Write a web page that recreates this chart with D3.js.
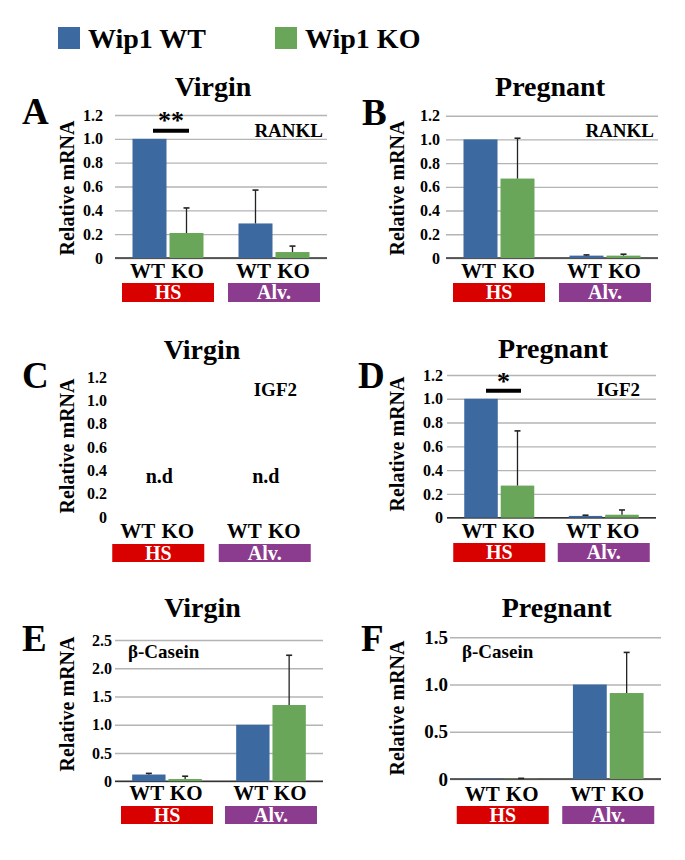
<!DOCTYPE html>
<html><head><meta charset="utf-8">
<script src="https://cdn.jsdelivr.net/npm/d3@7"></script>
<style>body{margin:0;background:#fff}svg{display:block}text{font-family:"Liberation Serif","Times New Roman",serif;font-weight:bold}</style>
</head><body>
<script>
// ---------- data ----------
const categories = ["HS", "Alv."];
const seriesNames = ["WT", "KO"];
const legendNames = ["Wip1 WT", "Wip1 KO"];
const panelLetters = ["A", "B", "C", "D", "E", "F"];
const panelTitles = ["Virgin", "Pregnant", "Virgin", "Pregnant", "Virgin", "Pregnant"];
const geneLabels = ["RANKL", "RANKL", "IGF2", "IGF2", "β-Casein", "β-Casein"];
const ticks12 = [0, 0.2, 0.4, 0.6, 0.8, 1.0, 1.2];
const ticks12Labels = ["0", "0.2", "0.4", "0.6", "0.8", "1.0", "1.2"];
const ticks25 = [0, 0.5, 1.0, 1.5, 2.0, 2.5];
const ticks25Labels = ["0", "0.5", "1.0", "1.5", "2.0", "2.5"];
const ticks15 = [0, 0.5, 1.0, 1.5];
const ticks15Labels = ["0", "0.5", "1.0", "1.5"];
// means and (upper) error per category [HS, Alv.]
const A_WT = [1.00, 0.29], A_WT_err = [0, 0.28];
const A_KO = [0.21, 0.05], A_KO_err = [0.21, 0.05];
const B_WT = [1.00, 0.02], B_WT_err = [0, 0.006];
const B_KO = [0.67, 0.02], B_KO_err = [0.34, 0.012];
const C_WT = null, C_KO = null; // n.d
const D_WT = [1.00, 0.015], D_WT_err = [0, 0.006];
const D_KO = [0.27, 0.025], D_KO_err = [0.46, 0.04];
const E_WT = [0.12, 1.00], E_WT_err = [0.02, 0];
const E_KO = [0.04, 1.35], E_KO_err = [0.05, 0.88];
const F_WT = [0.006, 1.00], F_WT_err = [0, 0];
const F_KO = [0.003, 0.91], F_KO_err = [0.004, 0.43];
const sigLabels = ["**", null, null, "*", null, null];
const ndLabel = "n.d";

// ---------- style / layout ----------
const FONT = '"Liberation Serif","Times New Roman",Times,serif';
const colors = {WT: "#3c69a0", KO: "#6aa65a"};
const boxColors = {"HS": "#d90000", "Alv.": "#8c3c8e"};
const layout = [
  {x0:115,x1:327,zero:258,top:115,max:1.2,ticks:ticks12,tl:ticks12Labels,tickRight:103,tickFs:16,titleX:213,titleY:96,letterX:22,letterY:124,ylabX:67,ylabY:188,geneX:323,geneY:137,geneAnchor:"end",catY:278,boxY:283,boxH:19,grid:true},
  {x0:446,x1:658,zero:258,top:115.7,max:1.2,ticks:ticks12,tl:ticks12Labels,tickRight:440,tickFs:16,titleX:550,titleY:96,letterX:362,letterY:125,ylabX:397,ylabY:188,geneX:654,geneY:137,geneAnchor:"end",catY:278,boxY:283,boxH:19,grid:true},
  {x0:105,x1:318,zero:517,top:377,max:1.2,ticks:ticks12,tl:ticks12Labels,tickRight:107,tickFs:16,titleX:202,titleY:359,letterX:22,letterY:388,ylabX:67,ylabY:446,geneX:297,geneY:396,geneAnchor:"end",catY:538,boxY:544,boxH:18,grid:false},
  {x0:447,x1:656,zero:517.7,top:375,max:1.2,ticks:ticks12,tl:ticks12Labels,tickRight:443,tickFs:16,titleX:553,titleY:358,letterX:358,letterY:388,ylabX:397,ylabY:444,geneX:640,geneY:396,geneAnchor:"end",catY:538,boxY:543,boxH:19,grid:true},
  {x0:115,x1:323,zero:781.3,top:640,max:2.5,ticks:ticks25,tl:ticks25Labels,tickRight:112,tickFs:16,titleX:202.5,titleY:617,letterX:22,letterY:651,ylabX:67,ylabY:704,geneX:128,geneY:658,geneAnchor:"start",catY:800,boxY:806,boxH:18,grid:true},
  {x0:450,x1:661,zero:779,top:637.3,max:1.5,ticks:ticks15,tl:ticks15Labels,tickRight:448,tickFs:19,titleX:556.7,titleY:617,letterX:361,letterY:651,ylabX:397,ylabY:708,geneX:462,geneY:658,geneAnchor:"start",catY:800.7,boxY:806,boxH:18,grid:true}
];
const sigBars = [{x:[153,189], y:130.7, ty:129}, null, null, {x:[486,521], y:390.7, ty:390}, null, null];

const panelData = [
  {WT:A_WT, WTe:A_WT_err, KO:A_KO, KOe:A_KO_err},
  {WT:B_WT, WTe:B_WT_err, KO:B_KO, KOe:B_KO_err},
  null,
  {WT:D_WT, WTe:D_WT_err, KO:D_KO, KOe:D_KO_err},
  {WT:E_WT, WTe:E_WT_err, KO:E_KO, KOe:E_KO_err},
  {WT:F_WT, WTe:F_WT_err, KO:F_KO, KOe:F_KO_err}
];

const svg = d3.select("body").append("svg").attr("width", 685).attr("height", 860)
  .attr("font-family", FONT).attr("font-weight", "bold");

// legend
const legendX = [58, 275];
seriesNames.forEach((s, i) => {
  svg.append("rect").attr("x", legendX[i]).attr("y", 27).attr("width", 22).attr("height", 22).attr("fill", colors[s]);
  svg.append("text").attr("x", legendX[i] + 30).attr("y", 48).attr("font-size", 28).text(legendNames[i]);
});

layout.forEach((L, pi) => {
  const g = svg.append("g");
  const y = d3.scaleLinear().domain([0, L.max]).range([L.zero, L.top]);
  const xg = d3.scaleBand().domain(categories).range([L.x0, L.x1]).paddingInner(0).paddingOuter(0);
  const xs = d3.scaleBand().domain(seriesNames).range([0, xg.bandwidth()]).paddingInner(0.081).paddingOuter(0.473);

  // axis with gridlines
  const w = L.x1 - L.x0;
  const axis = d3.axisLeft(y).tickValues(L.ticks).tickFormat((d, i) => L.tl[i])
    .tickSizeInner(L.grid ? -w : 0).tickSizeOuter(0).tickPadding(L.x0 - L.tickRight);
  const ag = g.append("g").attr("transform", `translate(${L.x0},0)`).call(axis);
  ag.attr("font-family", FONT).attr("font-size", L.tickFs);
  ag.select(".domain").remove();
  ag.selectAll(".tick line").attr("stroke", "#b4b4b4").attr("stroke-width", 1.4);
  ag.selectAll(".tick text").attr("fill", "#000");
  if (L.grid) {
    g.append("line").attr("x1", L.x0).attr("x2", L.x1).attr("y1", y(0)).attr("y2", y(0))
      .attr("stroke", "#333").attr("stroke-width", 1.5);
  }

  // bars
  const D = panelData[pi];
  if (D) {
    seriesNames.forEach(s => {
      categories.forEach((c, ci) => {
        const v = D[s][ci], e = D[s + "e"][ci];
        const bx = xg(c) + xs(s);
        g.append("rect").attr("x", bx).attr("width", xs.bandwidth())
          .attr("y", y(v)).attr("height", y(0) - y(v)).attr("fill", colors[s]);
        if (e > 0) {
          const cx = bx + xs.bandwidth() / 2;
          g.append("line").attr("x1", cx).attr("x2", cx).attr("y1", y(v)).attr("y2", y(v + e))
            .attr("stroke", "#222").attr("stroke-width", 1.3);
          g.append("line").attr("x1", cx - 3).attr("x2", cx + 3).attr("y1", y(v + e)).attr("y2", y(v + e))
            .attr("stroke", "#222").attr("stroke-width", 1.6);
        }
      });
    });
  } else {
    categories.forEach(c => {
      g.append("text").attr("x", xg(c) + xg.bandwidth() / 2 + 1).attr("y", 483)
        .attr("text-anchor", "middle").attr("font-size", 20).text(ndLabel);
    });
  }

  // category / series labels
  categories.forEach(c => {
    seriesNames.forEach(s => {
      g.append("text").attr("x", xg(c) + xs(s) + xs.bandwidth() / 2 + (s === "WT" ? -2 : 1)).attr("y", L.catY)
        .attr("text-anchor", "middle").attr("font-size", 21).text(s);
    });
    const bc = xg(c) + xg.bandwidth() / 2;
    g.append("rect").attr("x", bc - 46).attr("y", L.boxY).attr("width", 92).attr("height", L.boxH)
      .attr("fill", boxColors[c]);
    g.append("text").attr("x", bc).attr("y", L.boxY + L.boxH / 2 + 6.5).attr("text-anchor", "middle")
      .attr("font-size", 20).attr("fill", "#fff").text(c);
  });

  // titles and labels
  g.append("text").attr("x", L.titleX).attr("y", L.titleY).attr("text-anchor", "middle").attr("font-size", 28).text(panelTitles[pi]);
  g.append("text").attr("x", L.letterX).attr("y", L.letterY).attr("font-size", 37).text(panelLetters[pi]);
  g.append("text").attr("transform", `translate(${L.ylabX + 7},${L.ylabY}) rotate(-90)`)
    .attr("text-anchor", "middle").attr("font-size", 20).text("Relative mRNA");
  g.append("text").attr("x", L.geneX).attr("y", L.geneY).attr("text-anchor", L.geneAnchor).attr("font-size", 19).text(geneLabels[pi]);

  const sb = sigBars[pi];
  if (sb) {
    g.append("line").attr("x1", sb.x[0]).attr("x2", sb.x[1]).attr("y1", sb.y).attr("y2", sb.y)
      .attr("stroke", "#000").attr("stroke-width", 4);
    g.append("text").attr("x", (sb.x[0] + sb.x[1]) / 2).attr("y", sb.ty).attr("text-anchor", "middle")
      .attr("font-size", 26).text(sigLabels[pi]);
  }
});
svg.selectAll("text").style("font-family", FONT).style("font-weight", "bold");
</script>
</body></html>
